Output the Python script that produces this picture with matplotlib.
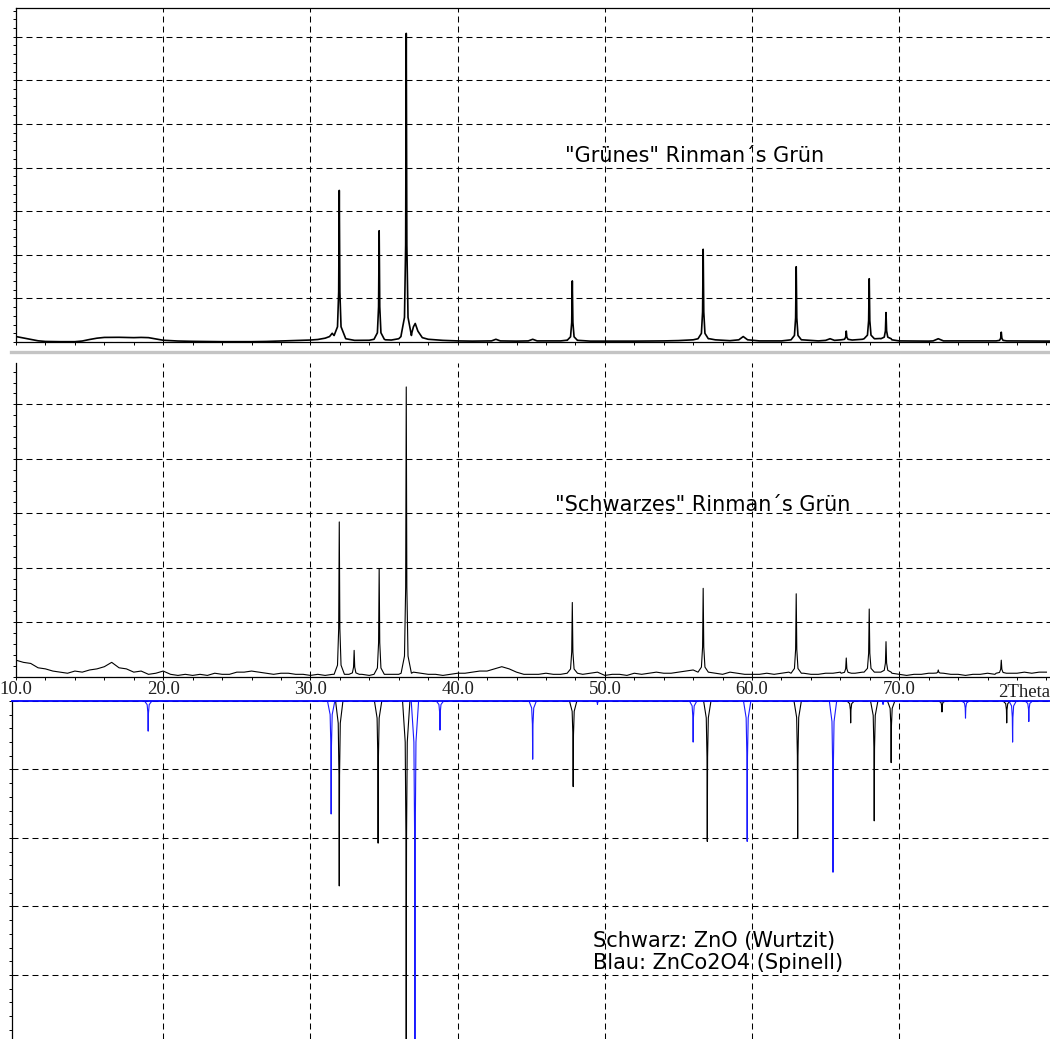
import numpy as np
import matplotlib
matplotlib.use('Agg')
import matplotlib.pyplot as plt
from matplotlib.lines import Line2D
from matplotlib.ticker import MultipleLocator

plt.rcParams['lines.scale_dashes'] = False

# ---- data (2Theta in degrees, intensity in counts) ----
# "Grünes" Rinman's Grün : background trace points
top_bg_x = [10.0, 10.5, 11.0, 11.5, 12.0, 13.0, 14.0, 14.5, 15.0, 15.5, 16.0, 17.0, 18.0, 18.5,
            19.0, 19.5, 20.0, 21.0, 22.0, 24.0, 26.0, 27.0, 28.0, 29.0, 30.0, 30.5, 31.0, 31.3,
            31.48, 31.6, 32.4, 33.0, 34.0, 34.3, 35.1, 35.5, 36.0, 36.15, 36.9, 37.0, 37.12, 37.3,
            37.6, 38.0, 39.0, 40.0, 41.0, 42.3, 42.6, 42.9, 44.0, 44.8, 45.1, 45.4, 47.0, 47.4,
            48.2, 49.0, 52.0, 54.0, 55.0, 56.0, 56.3, 57.1, 57.5, 58.5, 59.1, 59.4, 59.7, 60.5,
            62.0, 62.6, 63.4, 64.5, 65.0, 65.3, 65.6, 66.0, 66.8, 67.5, 68.4, 68.7, 69.5, 70.0,
            72.0, 72.3, 72.65, 73.0, 76.5, 77.3, 80.3]
top_bg_y = [5.0, 3.7, 2.3, 1.1, 0.5, 0.3, 0.3, 0.9, 2.3, 3.5, 4.2, 4.3, 4.0, 4.2,
            4.0, 2.8, 1.6, 0.9, 0.6, 0.3, 0.3, 0.5, 0.9, 1.4, 1.8, 2.3, 3.5, 5.0,
            8.0, 6.0, 3.0, 1.5, 1.6, 2.5, 2.0, 1.8, 3.0, 5.0, 9.0, 14.0, 17.0, 10.0,
            4.0, 2.5, 1.5, 1.0, 0.8, 1.0, 2.5, 1.0, 0.8, 1.0, 2.5, 1.0, 1.0, 1.6,
            1.5, 0.8, 0.8, 1.0, 1.3, 2.0, 3.0, 3.0, 2.0, 1.2, 2.0, 5.0, 2.0, 1.0,
            1.0, 2.0, 2.0, 1.0, 1.5, 3.0, 1.5, 2.0, 1.8, 2.5, 3.0, 3.2, 2.0, 1.0,
            0.8, 1.0, 3.0, 1.0, 1.0, 1.0, 0.8]
top_peak_pos = [31.96, 34.67, 36.51, 47.79, 56.68, 63.0, 66.4, 67.96, 69.1, 76.93]
top_peak_top = [139, 102, 283, 56, 85, 69, 10, 58, 27, 9]
top_peak_base = [6, 2.5, 6, 1.5, 3, 2, 2, 3, 3, 1]

# "Schwarzes" Rinman's Grün : noisy background every 0.5 deg from 10 to 80
mid_bg_y = [15, 13, 12, 8, 7, 5, 4, 3, 5, 4, 6, 7, 9, 13, 8, 7, 4, 5, 2, 3,
            5, 2, 1, 2, 1, 2, 1, 3, 2, 2, 4, 4, 5, 4, 3, 2, 3, 3, 2, 2,
            1, 2, 1, 2, 2, 2, 2, 2, 1, 2, 3, 2, 2, 2, 4, 3, 2, 2, 1, 2,
            3, 3, 4, 5, 5, 7, 9, 7, 4, 2, 2, 2, 3, 2, 2, 3, 3, 2, 3, 4,
            1, 2, 2, 1, 3, 2, 3, 4, 3, 3, 4, 5, 6, 4, 3, 3, 2, 4, 3, 2,
            2, 2, 3, 2, 3, 4, 3, 3, 2, 2, 3, 3, 4, 4, 3, 4, 4, 4, 4, 3,
            2, 1, 2, 2, 3, 4, 5, 2, 2, 1, 2, 2, 3, 2, 3, 3, 3, 4, 3, 4, 4]
mid_peak_pos = [31.96, 32.97, 34.67, 36.51, 47.79, 56.68, 63.0, 66.4, 67.96, 69.1, 72.65, 76.93]
mid_peak_top = [142, 24, 99, 266, 68, 81, 76, 17, 62, 32, 6, 15]
mid_peak_base = [2, 2, 2, 3, 3, 4, 3, 3, 4, 4, 3, 3]

# reference patterns, relative intensity (%)
zno_pos = [31.96, 34.6, 36.51, 47.85, 56.96, 63.1, 66.7, 68.3, 69.45, 72.9, 77.3]
zno_int = [54, 41.5, 100, 25, 41, 40, 6.4, 35, 18, 3.2, 6.4]
spinel_pos = [18.98, 31.41, 37.1, 38.8, 45.1, 49.5, 56.0, 59.67, 65.5, 68.9, 74.5, 77.7, 78.8]
spinel_int = [8.8, 33, 100, 8.5, 17, 1, 12, 41, 50, 1, 5, 12, 6]

tick_vals = [10, 20, 30, 40, 50, 60, 70]
tick_text = ['10.0', '20.0', '30.0', '40.0', '50.0', '60.0', '70.0']

# peak outline (offset in deg, fraction of height) - drawing style only
pk_dx = np.array([-0.35, -0.12, -0.04, 0.0, 0.04, 0.12, 0.35])
pk_fr = np.array([0.0, 0.06, 0.3, 1.0, 0.3, 0.06, 0.0])
ref_dx = np.array([-0.25, -0.07, -0.02, 0.0, 0.02, 0.07, 0.25])
ref_fr = np.array([0.0, 0.12, 0.4, 1.0, 0.4, 0.12, 0.0])


def build_trace(bx, by, pos, top, base):
    bx = np.asarray(bx, float)
    by = np.asarray(by, float)
    keep = np.ones(len(bx), bool)
    for p in pos:
        keep &= np.abs(bx - p) > 0.35
    xs = list(bx[keep])
    ys = list(by[keep])
    for p, t, b in zip(pos, top, base):
        xs += list(p + pk_dx)
        ys += list(b + pk_fr * (t - b))
    order = np.argsort(xs, kind='stable')
    return np.array(xs)[order], np.array(ys)[order]


W, H = 1050, 1039
fig = plt.figure(figsize=(W / 100, H / 100), dpi=100)


def box(l, t, r, b):
    return [l / W, 1 - b / H, (r - l) / W, (b - t) / H]


grid_kw = dict(color='black', linestyle=(0, (4.3, 2.9)), linewidth=0.75)
label_font = dict(family='Liberation Serif', fontsize=13.5, color='#202020')

ax_top = fig.add_axes(box(16, 8, 1050, 342))
ax_mid = fig.add_axes(box(16, 363, 1050, 676.5))
ax_bot = fig.add_axes(box(12, 701, 1050, 1039))

# top panel
x, y = build_trace(top_bg_x, top_bg_y, top_peak_pos, top_peak_top, top_peak_base)
ax_top.plot(x, y, color='black', lw=1.2, zorder=3)
ax_top.set_ylim(0, 306.3)
ax_top.yaxis.set_major_locator(MultipleLocator(40))
ax_top.yaxis.set_minor_locator(MultipleLocator(8))
ax_top.text(47.3, 171, '"Grünes" Rinman´s Grün', fontsize=15, va='center', ha='left')

# middle panel
mid_x = np.arange(10.0, 80.01, 0.5)
x, y = build_trace(mid_x, mid_bg_y, mid_peak_pos, mid_peak_top, mid_peak_base)
ax_mid.plot(x, y, color='black', lw=0.8, zorder=3)
ax_mid.set_ylim(0, 288)
ax_mid.yaxis.set_major_locator(MultipleLocator(50))
ax_mid.yaxis.set_minor_locator(MultipleLocator(10))
ax_mid.text(46.6, 158, '"Schwarzes" Rinman´s Grün', fontsize=15, va='center', ha='left')

for ax in (ax_top, ax_mid):
    ax.set_xlim(10.0, 80.24)
    ax.set_xticks([20, 30, 40, 50, 60, 70])
    ax.xaxis.set_minor_locator(MultipleLocator(2))
    ax.spines['right'].set_visible(False)
    ax.spines['top'].set_visible(ax is ax_top)
    for s in ax.spines.values():
        s.set_linewidth(0.9)
    ax.tick_params(which='both', direction='out', length=2.5, width=0.7,
                   labelleft=False, labelbottom=False)
    ax.grid(True, which='major', **grid_kw)
    ax.set_axisbelow(True)

# bottom panel: reference patterns pointing down
for p, v in zip(zno_pos, zno_int):
    ax_bot.plot(p + ref_dx, -v * ref_fr, color='black', lw=0.8, zorder=3)
for p, v in zip(spinel_pos, spinel_int):
    ax_bot.plot(p + ref_dx, -v * ref_fr, color='#1a1aff', lw=0.8, zorder=3)
ax_bot.set_xlim(9.73, 80.24)
ax_bot.set_ylim(-98.7, 0)
ax_bot.set_xticks(tick_vals)
ax_bot.set_xticklabels(tick_text, **label_font)
ax_bot.yaxis.set_major_locator(MultipleLocator(20))
ax_bot.yaxis.set_minor_locator(MultipleLocator(4))
ax_bot.tick_params(axis='x', which='both', top=True, bottom=False, labeltop=True,
                   labelbottom=False, length=0, pad=2)
ax_bot.tick_params(axis='y', which='both', direction='out', length=2.5, width=0.7, labelleft=False)
ax_bot.spines['right'].set_visible(False)
ax_bot.spines['bottom'].set_visible(False)
ax_bot.spines['top'].set_color('#0000ff')
ax_bot.spines['top'].set_linewidth(1.3)
ax_bot.spines['top'].set_zorder(4)
ax_bot.spines['left'].set_linewidth(0.9)
ax_bot.grid(True, which='major', axis='y', **grid_kw)
for t in tick_vals[1:]:
    ax_bot.axvline(t, zorder=0, **grid_kw)
ax_bot.set_axisbelow(True)
ax_bot.text(76.7, 0, '2Theta', ha='left', va='bottom', clip_on=False, **label_font)
ax_bot.text(49.2, -70, 'Schwarz: ZnO (Wurtzit)', fontsize=15, va='center', ha='left')
ax_bot.text(49.2, -76.5, 'Blau: ZnCo2O4 (Spinell)', fontsize=15, va='center', ha='left')

# grey separator between the two measured patterns
fig.add_artist(Line2D([11 / W, 1.0], [1 - 352 / H] * 2, color='#c4c4c4', lw=2.4))

fig.savefig('out.png', dpi=100)
